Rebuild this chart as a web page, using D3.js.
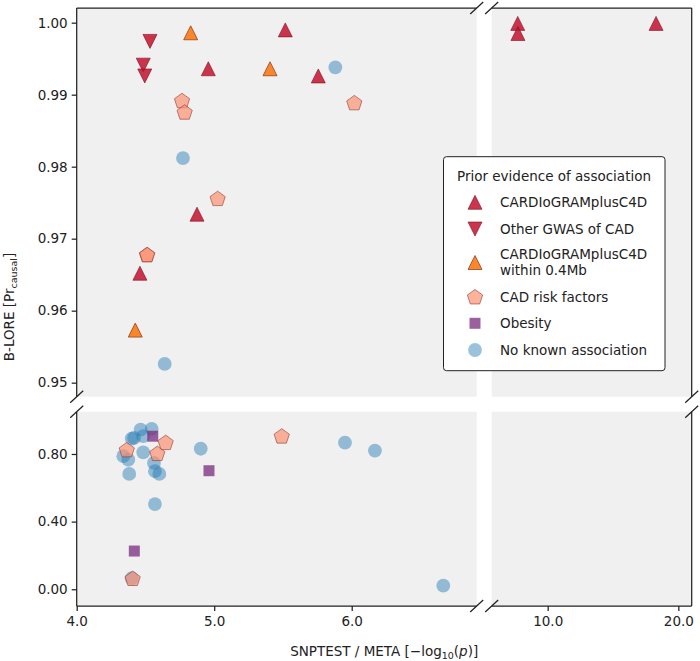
<!DOCTYPE html>
<html><head><meta charset="utf-8">
<script src="https://cdn.jsdelivr.net/npm/d3@7"></script>
<style>body{margin:0;background:#fff}svg{display:block;font-family:"DejaVu Sans",sans-serif}</style>
</head><body><svg id="c" width="700" height="661"></svg>
<script>
// ---- data ----
const categories = ["CARDIoGRAMplusC4D", "Other GWAS of CAD", "CARDIoGRAMplusC4D|within 0.4Mb", "CAD risk factors", "Obesity", "No known association"];
const cardX = [5.517, 4.957, 5.757, 4.875, 4.460, 8.53, 8.54, 17.77];
const cardY = [0.9990, 0.9936, 0.9926, 0.9734, 0.9652, 0.9999, 0.9985, 0.9999];
const otherX = [4.533, 4.484, 4.495];
const otherY = [0.9974, 0.9941, 0.9926];
const nearX = [4.829, 5.406, 4.426];
const nearY = [0.9986, 0.9936, 0.9573];
const riskX = [4.766, 4.785, 6.019, 5.025, 4.511, 4.513, 4.364, 4.647, 4.586, 5.491, 4.407];
const riskY = [0.9892, 0.9876, 0.9889, 0.9756, 0.9678, 0.9678, 0.826, 0.869, 0.804, 0.907, 0.065];
const obeseX = [4.553, 4.962, 4.419];
const obeseY = [0.905, 0.701, 0.226];
const noneX = [5.881, 4.773, 4.640, 4.465, 4.545, 4.400, 4.417, 4.484, 4.339, 4.375, 4.484, 4.382, 4.562, 4.569, 4.601, 4.569, 4.902, 4.400, 5.951, 6.169, 6.666];
const noneY = [0.9938, 0.9812, 0.9526, 0.944, 0.949, 0.891, 0.895, 0.905, 0.787, 0.766, 0.810, 0.682, 0.747, 0.698, 0.682, 0.504, 0.831, 0.065, 0.867, 0.820, 0.021];
const yTopTicks = [0.95, 0.96, 0.97, 0.98, 0.99, 1.00];
const yBotTicks = [0.00, 0.40, 0.80];
const xLeftTicks = [4.0, 5.0, 6.0];
const xRightTicks = [10.0, 20.0];

// ---- layout ----
const svg = d3.select("#c");
const FS = 13.5;
const L = 76.7, GX1 = 476.7, GX2 = 491.7, R = 691.7;
const T = 8, GY1 = 396.7, GY2 = 411.7, B = 606;
const xL = d3.scaleLinear().domain([4.0, 6.909]).range([L, GX1]);
const xR = d3.scaleLog().domain([7.43, 21.47]).range([GX2, R]);
const yT = d3.scaleLinear().domain([0.94805, 1.00204]).range([GY1, T]);
const yB = d3.scaleLinear().domain([-0.099, 1.05]).range([B, GY2]);
const bg = "#f0f0f0", ink = "#222";

// panel backgrounds
[[L, T, GX1, GY1], [GX2, T, R, GY1], [L, GY2, GX1, B], [GX2, GY2, R, B]].forEach(p => {
  svg.append("rect").attr("x", p[0]).attr("y", p[1]).attr("width", p[2] - p[0]).attr("height", p[3] - p[1]).attr("fill", bg);
});

// marker shapes
function shape(kind) {
  if (kind === "up") return "M0,-7L7,7L-7,7Z";
  if (kind === "down") return "M0,7L7,-7L-7,-7Z";
  if (kind === "pent") {
    const r = 8; let d = "";
    for (let i = 0; i < 5; i++) { const a = -Math.PI / 2 + i * 2 * Math.PI / 5; d += (i ? "L" : "M") + (r * Math.cos(a)).toFixed(2) + "," + (r * Math.sin(a) + 0.8).toFixed(2); }
    return d + "Z";
  }
  if (kind === "sq") return "M-5.5,-5.5H5.5V5.5H-5.5Z";
  return d3.symbol(d3.symbolCircle, Math.PI * 6.9 * 6.9)();
}
const styles = {
  card: {kind: "up", fill: "#c4122f", fo: 0.85, stroke: "#7a1020", so: 0.6},
  other: {kind: "down", fill: "#c4122f", fo: 0.85, stroke: "#7a1020", so: 0.6},
  near: {kind: "up", fill: "#f97a14", fo: 0.9, stroke: "#8a3410", so: 0.7},
  risk: {kind: "pent", fill: "#fc9272", fo: 0.7, stroke: "#8f3a30", so: 0.6},
  obese: {kind: "sq", fill: "#7a2c7e", fo: 0.75, stroke: "none", so: 0},
  none: {kind: "circ", fill: "#1f77b4", fo: 0.45, stroke: "none", so: 0}
};
function px(x) { return x < 7 ? xL(x) : xR(x); }
function py(y) { return y > 0.951 ? yT(y) : yB(y); }
function drawSeries(xs, ys, st) {
  const g = svg.append("g");
  g.selectAll("path").data(xs.map((x, i) => [x, ys[i]])).join("path")
    .attr("d", shape(st.kind))
    .attr("transform", d => `translate(${px(d[0])},${py(d[1])})`)
    .attr("fill", st.fill).attr("fill-opacity", st.fo)
    .attr("stroke", st.stroke).attr("stroke-opacity", st.so).attr("stroke-width", 1);
}
drawSeries(noneX, noneY, styles.none);
drawSeries(obeseX, obeseY, styles.obese);
drawSeries(riskX, riskY, styles.risk);
drawSeries(nearX, nearY, styles.near);
drawSeries(otherX, otherY, styles.other);
drawSeries(cardX, cardY, styles.card);

// spines
const sp = svg.append("g").attr("stroke", ink).attr("stroke-width", 1.25).attr("fill", "none");
[[L, T, L, GY1], [L, GY2, L, B], [L, B, GX1, B], [GX2, B, R, B], [R, T, R, GY1], [R, GY2, R, B], [L, T, GX1, T], [GX2, T, R, T]].forEach(s => {
  sp.append("line").attr("x1", s[0]).attr("y1", s[1]).attr("x2", s[2]).attr("y2", s[3]);
});
// break marks
[[L, GY1], [L, GY2], [R, GY1], [R, GY2], [GX1, T], [GX2, T], [GX1, B], [GX2, B]].forEach(c => {
  sp.append("line").attr("x1", c[0] - 6.5).attr("y1", c[1] + 6).attr("x2", c[0] + 6.5).attr("y2", c[1] - 6);
});

// axes
function styleAxis(g) {
  g.select(".domain").remove();
  g.selectAll(".tick line").attr("stroke", ink).attr("stroke-width", 1.25);
  g.selectAll(".tick text").attr("fill", ink).attr("font-size", FS).attr("font-family", "DejaVu Sans");
}
svg.append("g").attr("transform", `translate(${L},0)`)
  .call(d3.axisLeft(yT).tickValues(yTopTicks).tickFormat(d3.format(".2f")).tickSize(5).tickPadding(4)).call(styleAxis);
svg.append("g").attr("transform", `translate(${L},0)`)
  .call(d3.axisLeft(yB).tickValues(yBotTicks).tickFormat(d3.format(".2f")).tickSize(5).tickPadding(4)).call(styleAxis);
svg.append("g").attr("transform", `translate(0,${B})`)
  .call(d3.axisBottom(xL).tickValues(xLeftTicks).tickFormat(d3.format(".1f")).tickSize(5).tickPadding(5)).call(styleAxis);
svg.append("g").attr("transform", `translate(0,${B})`)
  .call(d3.axisBottom(xR).tickValues(xRightTicks).tickFormat(d3.format(".1f")).tickSize(5).tickPadding(5)).call(styleAxis);

// axis labels
const xl = svg.append("text").attr("x", (L + R) / 2).attr("y", 656).attr("text-anchor", "middle")
  .attr("font-size", FS).attr("fill", ink);
xl.append("tspan").text("SNPTEST / META [\u2212log");
xl.append("tspan").text("10").attr("font-size", 9.5).attr("dy", 3);
xl.append("tspan").text("(").attr("dy", -3);
xl.append("tspan").text("p").attr("font-style", "italic");
xl.append("tspan").text(")]");
const yl = svg.append("text").attr("transform", `translate(14,${(T + B) / 2}) rotate(-90)`).attr("text-anchor", "middle")
  .attr("font-size", FS).attr("fill", ink);
yl.append("tspan").text("B-LORE [Pr");
yl.append("tspan").text("causal").attr("font-size", 9.5).attr("dy", 3);
yl.append("tspan").text("]").attr("dy", -3);

// legend
const lg = svg.append("g");
lg.append("rect").attr("x", 443.5).attr("y", 156.7).attr("width", 221.5).attr("height", 214).attr("rx", 3)
  .attr("fill", "#fff").attr("stroke", ink).attr("stroke-width", 1);
lg.append("text").attr("x", 554).attr("y", 180.8).attr("text-anchor", "middle").attr("font-size", FS).attr("fill", ink)
  .text("Prior evidence of association");
const keys = ["card", "other", "near", "risk", "obese", "none"];
const legY = [202.3, 229, 262.5, 296.7, 323.3, 350];
keys.forEach((k, i) => {
  const st = styles[k];
  lg.append("path").attr("d", shape(st.kind)).attr("transform", `translate(475,${legY[i]})`)
    .attr("fill", st.fill).attr("fill-opacity", st.fo).attr("stroke", st.stroke).attr("stroke-opacity", st.so);
  const lines = categories[i].split("|");
  if (lines.length === 1) {
    lg.append("text").attr("x", 500).attr("y", legY[i] + 4.8).attr("font-size", FS).attr("fill", ink).text(lines[0]);
  } else {
    lines.forEach((ln, j) => lg.append("text").attr("x", 500).attr("y", legY[i] - 3.1 + j * 15.8)
      .attr("font-size", FS).attr("fill", ink).text(ln));
  }
});
</script></body></html>
